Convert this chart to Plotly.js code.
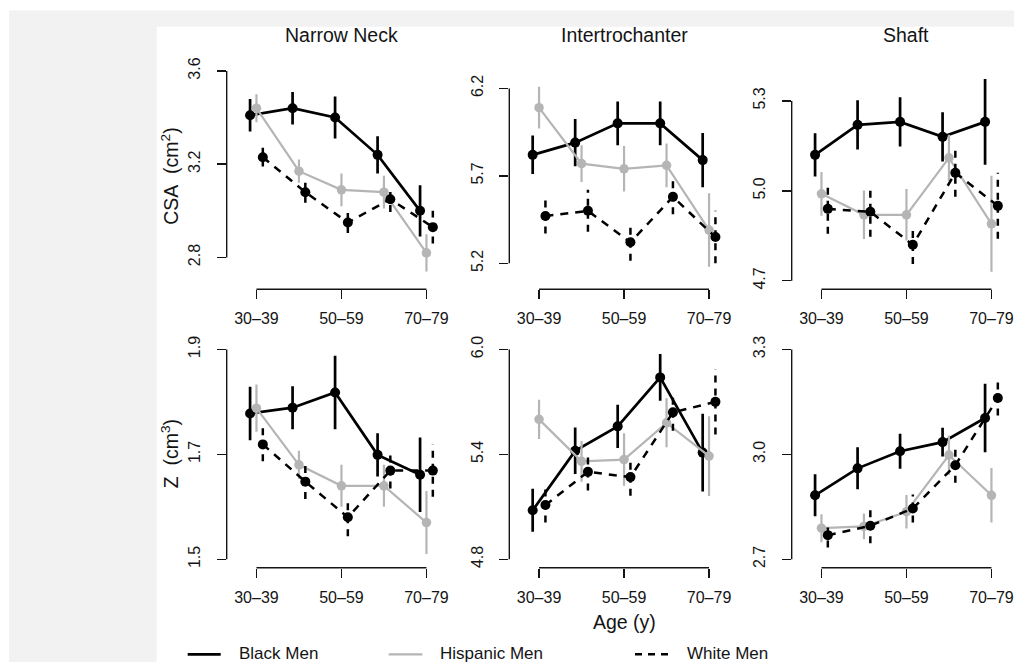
<!DOCTYPE html>
<html>
<head>
<meta charset="utf-8">
<script src="https://cdn.plot.ly/plotly-3.0.1.min.js"></script>
<style>
  html, body { margin: 0; padding: 0; background: #ffffff; }
  #chart { width: 1014px; height: 662px; }
</style>
</head>
<body>
<div id="chart"></div>
<script>
// Age groups on the x axis (every other one is labelled)
const ageGroups = ['30–39', '40–49', '50–59', '60–69', '70–79'];

// Narrow neck cross-sectional area, CSA (cm²): means and error half-widths
const nnCsaBlack      = [3.41, 3.44, 3.40, 3.24, 3.00];
const nnCsaBlackErr   = [0.07, 0.07, 0.09, 0.08, 0.11];
const nnCsaHisp       = [3.44, 3.17, 3.09, 3.08, 2.82];
const nnCsaHispErr    = [0.06, 0.05, 0.07, 0.07, 0.08];
const nnCsaWhite      = [3.23, 3.08, 2.95, 3.05, 2.93];
const nnCsaWhiteErr   = [0.04, 0.045, 0.045, 0.055, 0.07];

// Intertrochanter CSA (cm²)
const itCsaBlack      = [5.82, 5.89, 6.00, 6.00, 5.79];
const itCsaBlackErr   = [0.11, 0.135, 0.125, 0.125, 0.155];
const itCsaHisp       = [6.09, 5.77, 5.74, 5.76, 5.39];
const itCsaHispErr    = [0.12, 0.105, 0.13, 0.125, 0.21];
const itCsaWhite      = [5.47, 5.50, 5.32, 5.58, 5.35];
const itCsaWhiteErr   = [0.10, 0.12, 0.105, 0.10, 0.15];

// Shaft CSA (cm²)
const shCsaBlack      = [5.12, 5.22, 5.23, 5.18, 5.23];
const shCsaBlackErr   = [0.072, 0.082, 0.082, 0.082, 0.143];
const shCsaHisp       = [4.99, 4.92, 4.92, 5.11, 4.89];
const shCsaHispErr    = [0.073, 0.081, 0.086, 0.077, 0.16];
const shCsaWhite      = [4.94, 4.93, 4.82, 5.06, 4.95];
const shCsaWhiteErr   = [0.083, 0.083, 0.064, 0.08, 0.11];

// Narrow neck section modulus, Z (cm³)
const nnZBlack        = [1.778, 1.789, 1.818, 1.699, 1.661];
const nnZBlackErr     = [0.051, 0.041, 0.07, 0.041, 0.071];
const nnZHisp         = [1.788, 1.680, 1.640, 1.640, 1.570];
const nnZHispErr      = [0.045, 0.027, 0.04, 0.04, 0.06];
const nnZWhite        = [1.719, 1.648, 1.580, 1.669, 1.669];
const nnZWhiteErr     = [0.032, 0.033, 0.036, 0.034, 0.05];

// Intertrochanter Z (cm³)
const itZBlack        = [5.08, 5.42, 5.56, 5.84, 5.41];
const itZBlackErr     = [0.123, 0.133, 0.124, 0.133, 0.222];
const itZHisp         = [5.60, 5.36, 5.37, 5.58, 5.39];
const itZHispErr      = [0.112, 0.116, 0.15, 0.14, 0.228];
const itZWhite        = [5.11, 5.30, 5.27, 5.64, 5.70];
const itZWhiteErr     = [0.10, 0.107, 0.107, 0.105, 0.186];

// Shaft Z (cm³)
const shZBlack        = [2.883, 2.960, 3.009, 3.035, 3.104];
const shZBlackErr     = [0.06, 0.06, 0.05, 0.041, 0.098];
const shZHisp         = [2.789, 2.794, 2.836, 2.998, 2.883];
const shZHispErr      = [0.04, 0.037, 0.048, 0.056, 0.078];
const shZWhite        = [2.769, 2.796, 2.845, 2.969, 3.161];
const shZWhiteErr     = [0.035, 0.05, 0.04, 0.05, 0.05];

// Y tick labels per panel
const nnCsaTicks = [2.8, 3.2, 3.6];
const itCsaTicks = [5.2, 5.7, 6.2];
const shCsaTicks = [4.7, 5.0, 5.3];
const nnZTicks   = [1.5, 1.7, 1.9];
const itZTicks   = [4.8, 5.4, 6.0];
const shZTicks   = [2.7, 3.0, 3.3];

const seriesNames = ['Black Men', 'Hispanic Men', 'White Men'];

// ---- styling / geometry ----
const W = 1014, H = 662;
const fx = px => px / W;
const fy = px => 1 - px / H;
const GRAY = '#b5b5b5';
const INK = '#141414';

const styles = [
  { color: '#000000', width: 2.7, dash: 'solid',   msize: 10,  barW: 2.7, barDash: 'solid',   offset: -0.15 },
  { color: GRAY,      width: 2.2, dash: 'solid',   msize: 9.5, barW: 2.2, barDash: 'solid',   offset: 0 },
  { color: '#000000', width: 2.5, dash: '8px,7px', msize: 10,  barW: 2.5, barDash: '7px,6px', offset: 0.15 }
];

const panels = [
  { title: 'Narrow Neck',     ylim: [2.7, 3.6], yticks: nnCsaTicks, vals: [[nnCsaBlack, nnCsaBlackErr], [nnCsaHisp, nnCsaHispErr], [nnCsaWhite, nnCsaWhiteErr]] },
  { title: 'Intertrochanter', ylim: [5.1, 6.3], yticks: itCsaTicks, vals: [[itCsaBlack, itCsaBlackErr], [itCsaHisp, itCsaHispErr], [itCsaWhite, itCsaWhiteErr]] },
  { title: 'Shaft',           ylim: [4.7, 5.4], yticks: shCsaTicks, vals: [[shCsaBlack, shCsaBlackErr], [shCsaHisp, shCsaHispErr], [shCsaWhite, shCsaWhiteErr]] },
  { title: null,              ylim: [1.5, 1.9], yticks: nnZTicks,   vals: [[nnZBlack, nnZBlackErr], [nnZHisp, nnZHispErr], [nnZWhite, nnZWhiteErr]] },
  { title: null,              ylim: [4.8, 6.0], yticks: itZTicks,   vals: [[itZBlack, itZBlackErr], [itZHisp, itZHispErr], [itZWhite, itZWhiteErr]] },
  { title: null,              ylim: [2.7, 3.3], yticks: shZTicks,   vals: [[shZBlack, shZBlackErr], [shZHisp, shZHispErr], [shZWhite, shZWhiteErr]] }
];

const colLeft = [226.7, 509.3, 791.7];
const colWidth = 229.5;          // pixels for x range 0.3 .. 5.7
const xLim = [0.3, 5.7];
const rowTop = [62.5, 341];
const rowHeight = 226.7;

const FONT = 'Liberation Sans, Arial, Helvetica, sans-serif';

const traces = [];
const layout = {
  width: W, height: H,
  margin: { l: 0, r: 0, t: 0, b: 0 },
  paper_bgcolor: '#ffffff',
  plot_bgcolor: 'rgba(0,0,0,0)',
  showlegend: false,
  font: { family: FONT, color: INK, size: 16 },
  shapes: [
    // framing background
    { type: 'rect', xref: 'paper', yref: 'paper', x0: fx(9), x1: 1, y0: 0, y1: fy(10.5),
      fillcolor: '#f2f2f2', line: { width: 0 }, layer: 'below' },
    { type: 'rect', xref: 'paper', yref: 'paper', x0: fx(156.7), x1: 1, y0: 0, y1: fy(26.7),
      fillcolor: '#ffffff', line: { width: 0 }, layer: 'below' }
  ],
  annotations: []
};

const xTickVals = ageGroups.map((g, i) => i + 1).filter((v, i) => i % 2 === 0);
const xTickText = ageGroups.filter((g, i) => i % 2 === 0);

panels.forEach((p, i) => {
  const col = i % 3, row = Math.floor(i / 3);
  const sfx = i === 0 ? '' : String(i + 1);
  const xa = 'x' + sfx, ya = 'y' + sfx;

  const left = colLeft[col];
  const right = Math.min(left + colWidth, W);
  const xMax = xLim[0] + (right - left) / colWidth * (xLim[1] - xLim[0]);
  const span = p.ylim[1] - p.ylim[0];
  const yRange = [p.ylim[0] - 0.04 * span, p.ylim[1] + 0.04 * span];

  layout['xaxis' + sfx] = {
    domain: [fx(left), fx(right)],
    range: [xLim[0], xMax],
    anchor: ya,
    showgrid: false, zeroline: false, showline: false,
    tickmode: 'array', tickvals: xTickVals, ticktext: xTickText,
    ticks: 'outside', ticklen: 9, tickwidth: 1.4, tickcolor: INK,
    ticklabelstandoff: 6,
    tickfont: { size: 16, family: FONT, color: INK },
    fixedrange: true
  };
  layout['yaxis' + sfx] = {
    domain: [fy(rowTop[row] + rowHeight), fy(rowTop[row])],
    range: yRange,
    anchor: xa,
    showgrid: false, zeroline: false, showline: false,
    tickmode: 'array', tickvals: p.yticks, ticktext: p.yticks.map(v => v.toFixed(1)),
    ticks: 'outside', ticklen: 9, tickwidth: 1.4, tickcolor: INK,
    tickangle: -90,
    ticklabelstandoff: 10,
    tickfont: { size: 16, family: FONT, color: INK },
    fixedrange: true
  };

  // axis lines running between the outer ticks
  layout.shapes.push({
    type: 'line', xref: xa, yref: ya + ' domain',
    x0: xTickVals[0], x1: xTickVals[xTickVals.length - 1], y0: 0, y1: 0,
    line: { color: INK, width: 1.4 }
  });
  layout.shapes.push({
    type: 'line', xref: xa + ' domain', yref: ya,
    x0: 0, x1: 0, y0: p.yticks[0], y1: p.yticks[p.yticks.length - 1],
    line: { color: INK, width: 1.4 }
  });

  if (p.title) {
    layout.annotations.push({
      text: p.title, xref: xa, yref: 'paper', x: 3, y: fy(35.5),
      xanchor: 'center', yanchor: 'middle', showarrow: false,
      font: { size: 19.5, family: FONT, color: INK }
    });
  }

  p.vals.forEach((pair, s) => {
    const st = styles[s];
    const means = pair[0], errs = pair[1];
    const xs = means.map((v, k) => k + 1 + st.offset);

    // error bars as vertical segments
    const bx = [], by = [];
    means.forEach((v, k) => {
      bx.push(xs[k], xs[k], null);
      by.push(v - errs[k], v + errs[k], null);
    });
    traces.push({
      type: 'scatter', mode: 'lines', x: bx, y: by, xaxis: xa, yaxis: ya,
      line: { color: st.color, width: st.barW, dash: st.barDash },
      hoverinfo: 'skip', name: seriesNames[s]
    });
    traces.push({
      type: 'scatter', mode: 'lines+markers', x: xs, y: means, xaxis: xa, yaxis: ya,
      line: { color: st.color, width: st.width, dash: st.dash },
      marker: { color: st.color, size: st.msize, line: { width: 0 } },
      name: seriesNames[s]
    });
  });
});

// row titles and shared x title
layout.annotations.push({
  text: 'CSA\u00a0\u00a0(cm<sup>2</sup>)', xref: 'paper', yref: 'paper',
  x: fx(170), y: fy(rowTop[0] + rowHeight / 2), textangle: -90,
  xanchor: 'center', yanchor: 'middle', showarrow: false,
  font: { size: 19.5, family: FONT, color: INK }
});
layout.annotations.push({
  text: 'Z\u00a0\u00a0(cm<sup>3</sup>)', xref: 'paper', yref: 'paper',
  x: fx(170), y: fy(rowTop[1] + rowHeight / 2), textangle: -90,
  xanchor: 'center', yanchor: 'middle', showarrow: false,
  font: { size: 19.5, family: FONT, color: INK }
});
layout.annotations.push({
  text: 'Age (y)', xref: 'x5', yref: 'paper', x: 3, y: fy(621.7),
  xanchor: 'center', yanchor: 'middle', showarrow: false,
  font: { size: 19.5, family: FONT, color: INK }
});

// legend row along the bottom
const legendKeys = [
  { x0: 187.7, x1: 220.7, tx: 236.7 },
  { x0: 388.7, x1: 422.3, tx: 438.3 },
  { x0: 635,   x1: 668,   tx: 685 }
];
legendKeys.forEach((k, s) => {
  const st = styles[s];
  layout.shapes.push({
    type: 'line', xref: 'paper', yref: 'paper',
    x0: fx(k.x0), x1: fx(k.x1), y0: fy(654.3), y1: fy(654.3),
    line: { color: st.color, width: st.width, dash: s === 2 ? '7px,6px' : 'solid' }
  });
  layout.annotations.push({
    text: seriesNames[s], xref: 'paper', yref: 'paper',
    x: fx(k.tx), y: fy(653), xanchor: 'left', yanchor: 'middle', showarrow: false,
    font: { size: 17, family: FONT, color: INK }
  });
});

Plotly.newPlot('chart', traces, layout, { displayModeBar: false, staticPlot: true });
</script>
</body>
</html>
